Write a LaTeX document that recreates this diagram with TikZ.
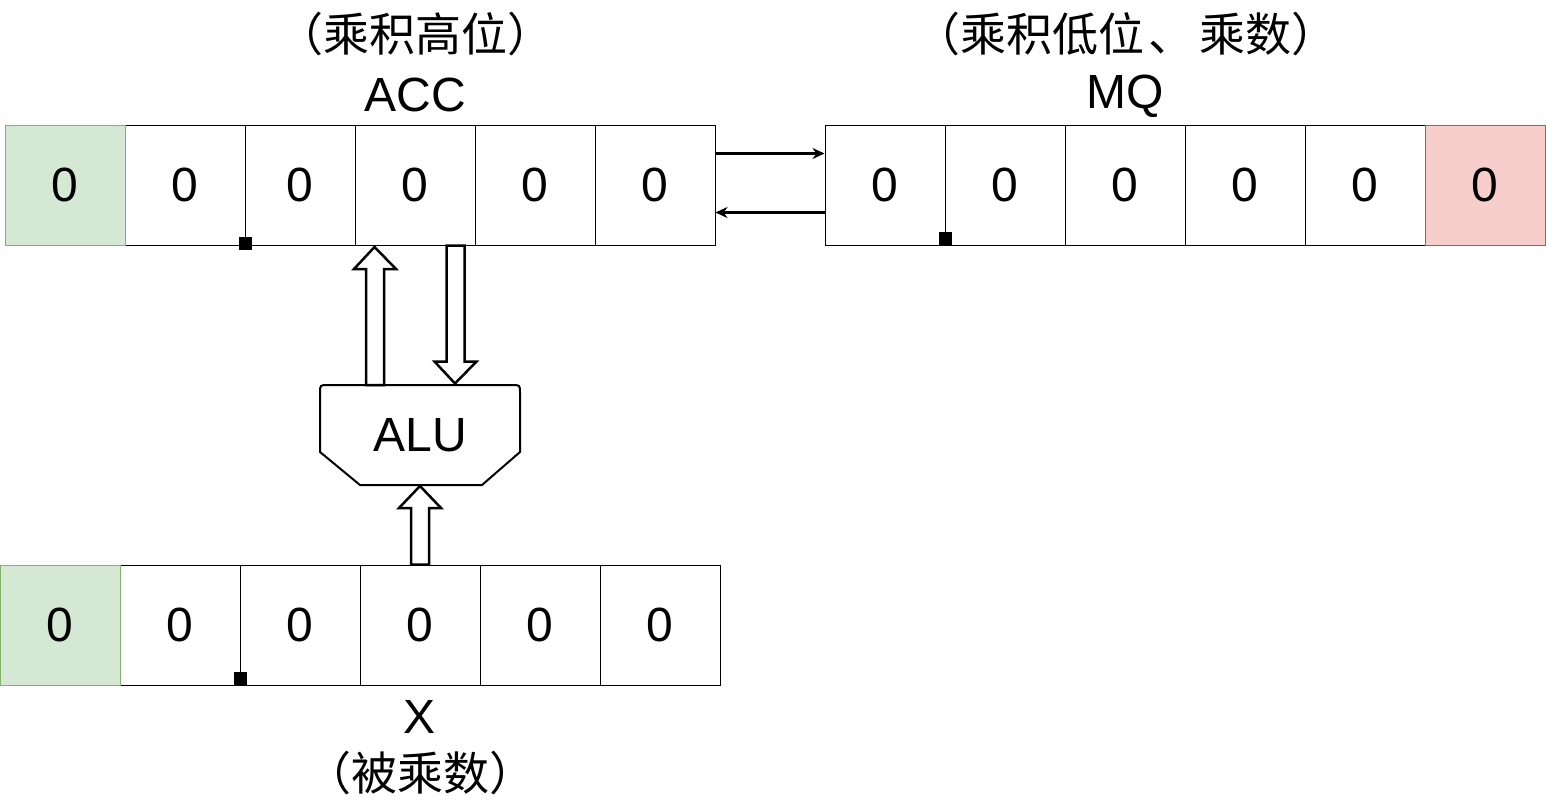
\documentclass[tikz,border=0pt]{standalone}
\usepackage{fontspec}
\setmainfont{Liberation Sans}
\newfontfamily\cjk{Noto Sans CJK SC}
\usetikzlibrary{calc,arrows.meta}
\definecolor{gfill}{HTML}{D5E8D4}
\definecolor{gline}{HTML}{82B366}
\definecolor{rfill}{HTML}{F8CECC}
\definecolor{rline}{HTML}{B85450}
\newcommand\lpar{\makebox[1em][c]{（}}
\newcommand\rpar{\makebox[1em][c]{）}}
\newcommand\dunhao{\makebox[1.2em][c]{、}}
\newcommand\blockarrow[2]{%
  \draw[barrow] let \p1=(#1), \p2=(#2), \n1={ifthenelse(\y2>\y1,1,-1)} in
    (\x1-9pt,\y1) -- (\x1-9pt,\y2-\n1*22pt) -- (\x1-21pt,\y2-\n1*22pt) -- (\x2,\y2)
    -- (\x1+21pt,\y2-\n1*22pt) -- (\x1+9pt,\y2-\n1*22pt) -- (\x1+9pt,\y1) -- cycle;}
\begin{document}
\begin{tikzpicture}[x=1pt,y=-1pt,
  cell/.style={draw=black, line width=1pt, fill=white, minimum width=120pt, minimum height=120pt, inner sep=0pt, font=\fontsize{48}{48}\selectfont},
  gcell/.style={cell, fill=gfill, draw=gline},
  rcell/.style={cell, fill=rfill, draw=rline},
  sq/.style={fill=black, inner sep=0pt, minimum size=13pt},
  lat/.style={inner sep=0pt, font=\fontsize{48}{48}\selectfont},
  cn/.style={inner sep=0pt, font=\cjk\fontsize{46}{46}\selectfont},
  arr/.style={line width=2.5pt, -{Stealth[length=12pt,width=11pt]}},
  barrow/.style={draw=black, line width=2.5pt, fill=white, line join=miter}]
\useasboundingbox (0,0) rectangle (1546,811);
\fill[white] (0,0) rectangle (1546,811);
% ACC register
\node[cell] (a1) at (185,185) {0};
\node[cell, minimum width=110pt] (a2) at (300,185) {0};
\node[cell] (a3) at (415,185) {0};
\node[cell] (a4) at (535,185) {0};
\node[cell] (a5) at (655,185) {0};
\node[gcell] (a0) at (65,185) {0};
\node[sq] (sa) at (245.5,243.5) {};
% MQ register
\node[cell] (m0) at (885,185) {0};
\node[cell] (m1) at (1005,185) {0};
\node[cell] (m2) at (1125,185) {0};
\node[cell] (m3) at (1245,185) {0};
\node[cell] (m4) at (1365,185) {0};
\node[rcell] (m5) at (1485,185) {0};
\node[sq] (sm) at (945,238.5) {};
% X register
\node[cell] (x1) at (180,625) {0};
\node[cell] (x2) at (300,625) {0};
\node[cell] (x3) at (420,625) {0};
\node[cell] (x4) at (540,625) {0};
\node[cell] (x5) at (660,625) {0};
\node[gcell] (x0) at (60,625) {0};
\node[sq] (sx) at (240.5,678.5) {};
% labels
\node[cn] (acccn) at (415,34) {\lpar 乘积高位\rpar};
\node[lat] (acc) at (415,95) {ACC};
\node[cn] (mqcn) at (1126,34) {\lpar 乘积低位\dunhao 乘数\rpar};
\node[lat] (mq) at (1125,96) {MQ};
\node[lat] (xl) at (420,717) {X};
\node[cn] (xcn) at (420,773) {\lpar 被乘数\rpar};
% ALU
\draw[line width=2pt, fill=white] (320,452) -- (320,393) .. controls (320,385) .. (328,385) -- (512,385)
  .. controls (520,385) .. (520,393) -- (520,452) -- (482,485) -- (360,485) -- cycle;
\node[lat] (alu) at (420,435) {ALU};
\coordinate (alutop) at (420,385);
\coordinate (alubot) at (420,486);
% ACC <-> MQ
\draw[arr] ($(a5.north east)+(0,29)$) -- ($(m0.north west)+(0,29)$);
\draw[arr] ($(m0.north west)+(0,88)$) -- ($(a5.north east)+(0,88)$);
% block arrows
\blockarrow{$(alutop)+(-45,0)$}{$(a3.south west)+(20,1.5)$}
\blockarrow{$(a3.south east)+(-20,0)$}{$(alutop)+(35,-1.5)$}
\blockarrow{x3.north}{alubot}
\end{tikzpicture}
\end{document}
